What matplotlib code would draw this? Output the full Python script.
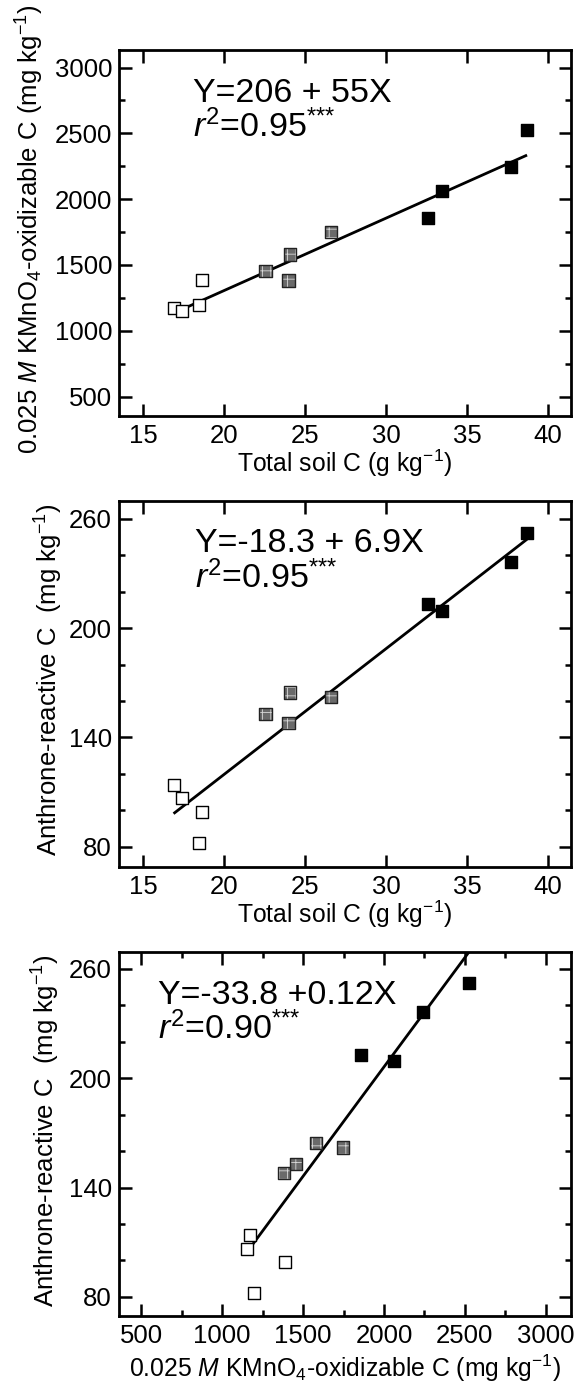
#==================#
# Libraries import #
#==================#

import matplotlib
matplotlib.use("Agg")
import matplotlib.pyplot as plt
from matplotlib.ticker import MultipleLocator

#======#
# Data #
#======#

# one entry per soil sample
total_c = [16.87, 17.41, 18.45, 18.61, 22.55, 23.98, 24.05, 26.62, 32.58, 33.45, 37.72, 38.71]
kmno4_c = [1170, 1152, 1194, 1388, 1455, 1381, 1580, 1748, 1860, 2065, 2242, 2527]
anthrone_c = [114.0, 106.5, 82.0, 99.0, 152.8, 148.0, 164.6, 162.0, 213.0, 209.6, 236.2, 252.2]
group = ["open", "open", "open", "open", "gray", "gray", "gray", "gray",
         "black", "black", "black", "black"]

# regression equations printed on the panels (intercept, slope)
fit_1 = (206, 55)
fit_2 = (-18.3, 6.9)
fit_3 = (-33.8, 0.12)

eq_1 = ["Y=206 + 55X", r"$r^2$=0.95$^{{*}{*}{*}}$"]
eq_2 = ["Y=-18.3 + 6.9X", r"$r^2$=0.95$^{{*}{*}{*}}$"]
eq_3 = ["Y=-33.8 +0.12X", r"$r^2$=0.90$^{{*}{*}{*}}$"]

label_total = r"Total soil C (g kg$^{-1}$)"
label_kmno4 = r"0.025 $M$ KMnO$_4$-oxidizable C (mg kg$^{-1}$)"
label_anth = r"Anthrone-reactive C  (mg kg$^{-1}$)"

#=====================#
# Plotting parameters #
#=====================#

plt.rcParams["font.family"] = ["Liberation Sans", "DejaVu Sans"]
plt.rcParams["mathtext.fontset"] = "custom"
plt.rcParams["mathtext.rm"] = "Liberation Sans"
plt.rcParams["mathtext.it"] = "Liberation Sans:italic"
plt.rcParams["hatch.linewidth"] = 0.6

TICK_SIZE = 18.5
XLABEL_SIZE = 17.8
YLABEL_SIZE = 18.5
EQ_SIZE = 24.5
MS = 78


def style_axes(ax, xmaj, xmin, ymaj, ymin, yoff=0):
    for sp in ax.spines.values():
        sp.set_linewidth(2)
    ax.xaxis.set_major_locator(MultipleLocator(xmaj))
    ax.yaxis.set_major_locator(MultipleLocator(ymaj, offset=yoff))
    if xmin:
        ax.xaxis.set_minor_locator(MultipleLocator(xmin))
    if ymin:
        ax.yaxis.set_minor_locator(MultipleLocator(ymin))
    ax.tick_params(which="both", direction="in", top=True, right=True, width=1.8)
    ax.tick_params(which="major", length=9)
    ax.tick_params(which="minor", length=4.3)
    ax.tick_params(axis="x", which="major", labelsize=TICK_SIZE, pad=6)
    ax.tick_params(axis="y", which="major", labelsize=TICK_SIZE, pad=5)


def plot_points(ax, x, y):
    for kind in ["open", "gray", "black"]:
        xs = [a for a, g in zip(x, group) if g == kind]
        ys = [b for b, g in zip(y, group) if g == kind]
        if kind == "open":
            ax.scatter(xs, ys, s=MS, marker="s", facecolor="white",
                       edgecolor="black", linewidths=1.0, zorder=3)
        elif kind == "gray":
            ax.scatter(xs, ys, s=MS, marker="s", facecolor="#6a6a6a",
                       edgecolor="none", zorder=3)
            ax.scatter(xs, ys, s=MS, marker="s", facecolor="none",
                       edgecolor="#d8d8d8", hatch="++", linewidths=0, zorder=3)
            ax.scatter(xs, ys, s=MS, marker="s", facecolor="none",
                       edgecolor="#222222", linewidths=1.0, zorder=3)
        else:
            ax.scatter(xs, ys, s=MS, marker="s", facecolor="black",
                       edgecolor="black", linewidths=1.0, zorder=3)


def plot_fit(ax, x, fit):
    x0, x1 = min(x), max(x)
    ax.plot([x0, x1], [fit[0] + fit[1] * x0, fit[0] + fit[1] * x1],
            color="black", lw=2, zorder=2, solid_capstyle="butt")


def plot_eq(ax, xpos, lines):
    ax.text(xpos, 0.859, lines[0], transform=ax.transAxes, fontsize=EQ_SIZE,
            va="baseline", ha="left")
    ax.text(xpos, 0.762, lines[1], transform=ax.transAxes, fontsize=EQ_SIZE,
            va="baseline", ha="left")


#==========#
# Figure   #
#==========#

fig = plt.figure(figsize=(5.79, 13.84), dpi=100)

ax1 = fig.add_axes([0.2055, 0.6994, 0.78, 0.2645])
ax2 = fig.add_axes([0.2055, 0.3738, 0.78, 0.2645])
ax3 = fig.add_axes([0.2055, 0.0491, 0.78, 0.2628])

# panel 1 : KMnO4 C vs total soil C
plot_points(ax1, total_c, kmno4_c)
plot_fit(ax1, total_c, fit_1)
ax1.set_xlim(13.5, 41.4)
ax1.set_ylim(352, 3134)
style_axes(ax1, 5, None, 500, 250)
plot_eq(ax1, 0.164, eq_1)
ax1.set_xlabel(label_total, fontsize=XLABEL_SIZE, va="center")
ax1.set_ylabel(label_kmno4, fontsize=YLABEL_SIZE, va="center")
ax1.xaxis.set_label_coords(0.5, -0.128)
ax1.yaxis.set_label_coords(-0.197, 0.51)

# panel 2 : anthrone C vs total soil C
plot_points(ax2, total_c, anthrone_c)
plot_fit(ax2, total_c, fit_2)
ax2.set_xlim(13.5, 41.4)
ax2.set_ylim(69, 270)
style_axes(ax2, 5, None, 60, 20, yoff=20)
plot_eq(ax2, 0.168, eq_2)
ax2.set_xlabel(label_total, fontsize=XLABEL_SIZE, va="center")
ax2.set_ylabel(label_anth, fontsize=YLABEL_SIZE, va="center")
ax2.xaxis.set_label_coords(0.5, -0.131)
ax2.yaxis.set_label_coords(-0.155, 0.51)

# panel 3 : anthrone C vs KMnO4 C
plot_points(ax3, kmno4_c, anthrone_c)
plot_fit(ax3, kmno4_c, fit_3)
ax3.set_xlim(362, 3154)
ax3.set_ylim(69.5, 269.1)
style_axes(ax3, 500, 250, 60, 20, yoff=20)
plot_eq(ax3, 0.086, eq_3)
ax3.set_xlabel(label_kmno4, fontsize=XLABEL_SIZE, va="center")
ax3.set_ylabel(label_anth, fontsize=YLABEL_SIZE, va="center")
ax3.xaxis.set_label_coords(0.5, -0.143)
ax3.yaxis.set_label_coords(-0.162, 0.51)

fig.savefig("out.png", dpi=100)
